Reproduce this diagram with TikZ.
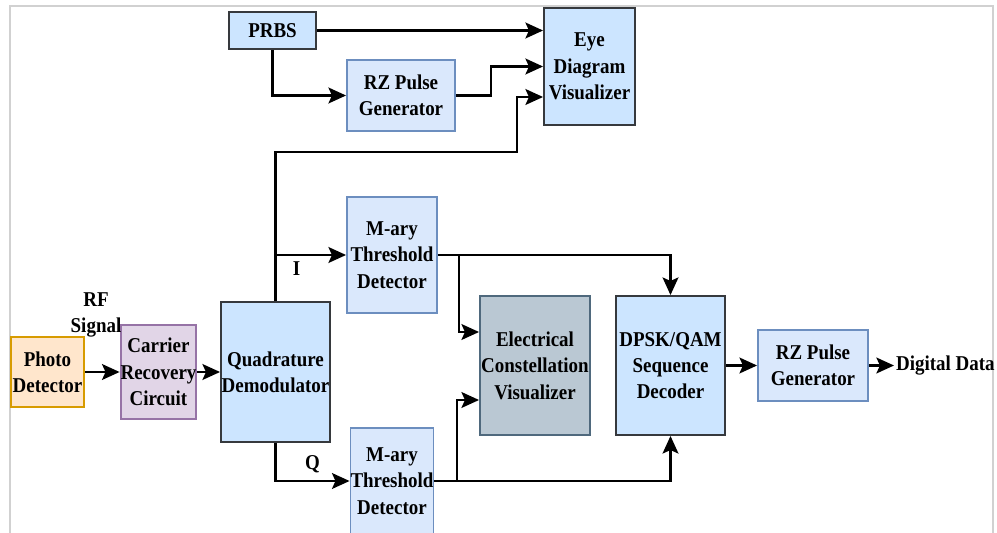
\documentclass[tikz,border=0pt]{standalone}
\usepackage{fontspec}
\setmainfont{Liberation Serif}[FakeStretch=0.9]
\usepackage{xcolor}
\usepackage{tikz}
\usetikzlibrary{arrows.meta}

\definecolor{dkblue}{HTML}{CCE5FF}
\definecolor{ltblue}{HTML}{DAE8FC}
\definecolor{ltblueline}{HTML}{6C8EBF}
\definecolor{dkline}{HTML}{36393D}
\definecolor{pdfill}{HTML}{FFE6CC}
\definecolor{pdline}{HTML}{D79B00}
\definecolor{crfill}{HTML}{E1D5E7}
\definecolor{crline}{HTML}{9673A6}
\definecolor{gyfill}{HTML}{BAC8D3}
\definecolor{gyline}{HTML}{23445D}

\tikzset{
    blk/.style={rectangle, line width=1.1pt, align=center, inner sep=0pt,
        font=\fontsize{12}{15}\selectfont\bfseries},
    dkbox/.style={blk, draw=dkline, fill=dkblue},
    ltbox/.style={blk, draw=ltblueline, fill=ltblue},
    pdbox/.style={blk, draw=pdline, fill=pdfill},
    crbox/.style={blk, draw=crline, fill=crfill},
    gybox/.style={blk, draw=gyline!80, fill=gyfill},
    lbl/.style={font=\fontsize{12}{15}\selectfont\bfseries, align=center, inner sep=1pt},
    wire/.style={line width=1.4pt, -{Stealth[length=10pt, width=9pt, inset=2pt]}},
}

\begin{document}
\begin{tikzpicture}[x=0.02cm, y=-0.02cm]

    \useasboundingbox (0,0) rectangle (997,533);

    % ==========================================
    % Frame
    % ==========================================
    \draw[black!18, line width=1pt] (10,540) -- (10,6) -- (993,6) -- (993,540);

    % ==========================================
    % Top row: PRBS, RZ pulse, eye diagram
    % ==========================================
    \node[dkbox, minimum width=1.74cm, minimum height=0.74cm] (prbs) at (272.5,30.5) {PRBS};
    \node[ltbox, minimum width=2.16cm, minimum height=1.42cm] (rzgen) at (401,95.5) {RZ Pulse\\Generator};
    \node[dkbox, minimum width=1.82cm, minimum height=2.34cm] (eye) at (589.5,66.5) {Eye\\Diagram\\Visualizer};

    % ==========================================
    % Receiver front end
    % ==========================================
    \node[pdbox, minimum width=1.46cm, minimum height=1.40cm] (photo) at (47.5,372) {Photo\\Detector};
    \node[crbox, minimum width=1.46cm, minimum height=1.88cm] (carrier) at (158.5,372) {Carrier\\Recovery\\Circuit};
    \node[dkbox, minimum width=2.18cm, minimum height=2.80cm] (quad) at (275.5,372) {Quadrature\\Demodulator};
    \node[lbl] (rf) at (96,315) {RF\\Signal};

    % ==========================================
    % I / Q branches
    % ==========================================
    \node[ltbox, minimum width=1.80cm, minimum height=2.32cm] (maryI) at (392,255) {M-ary\\Threshold\\Detector};
    \node[ltbox, minimum width=1.60cm, minimum height=2.12cm] (maryQ) at (392,481) {M-ary\\Threshold\\Detector};

    % ==========================================
    % Back end
    % ==========================================
    \node[gybox, minimum width=2.20cm, minimum height=2.78cm] (const) at (535,365.5) {Electrical\\Constellation\\Visualizer};
    \node[dkbox, minimum width=2.18cm, minimum height=2.78cm] (dpsk) at (670.5,365.5) {DPSK/QAM\\Sequence\\Decoder};
    \node[ltbox, minimum width=2.20cm, minimum height=1.42cm] (rzout) at (813,365.5) {RZ Pulse\\Generator};
    \node[lbl, anchor=west] (data) at (894,365.5) {Digital Data};

    % ==========================================
    % Connections
    % ==========================================
    \draw[wire] (prbs.east) -- (prbs.east -| eye.west);
    \draw[wire] (prbs.south) |- (rzgen.west);
    \draw[wire] (rzgen.east) -- ++(35,0) |- (eye.west);
    \draw[wire] (quad.north) |- (517,152) |- ([yshift=-0.61cm]eye.west);

    \draw[wire] (quad.north |- maryI.west) -- (maryI.west) node[lbl, pos=0.3, below=2pt] {I};
    \draw[wire] (quad.south) |- (maryQ.west) node[lbl, pos=0.75, above=3pt] {Q};

    \draw[wire] (photo.east) -- (carrier.west);
    \draw[wire] (carrier.east) -- (quad.west);

    \draw[wire] (maryI.east) -| (dpsk.north);
    \draw[wire] (459,255) |- ([yshift=0.67cm]const.west);
    \draw[wire] (maryQ.east) -| (dpsk.south);
    \draw[wire] (457,481) |- ([yshift=-0.69cm]const.west);

    \draw[wire] (dpsk.east) -- (rzout.west);
    \draw[wire] (rzout.east) -- (data.west);

\end{tikzpicture}
\end{document}
